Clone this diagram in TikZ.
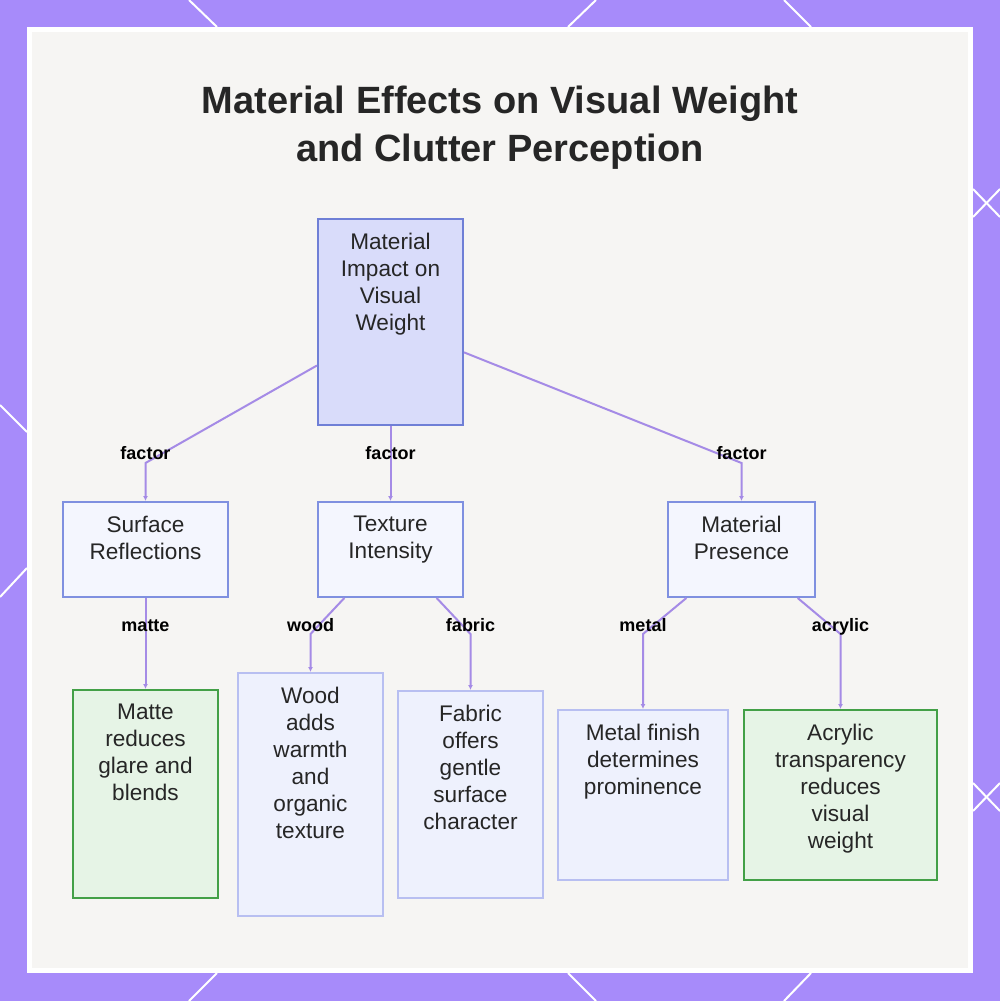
\documentclass[tikz,border=0pt]{standalone}
\usepackage{fontspec}
\setmainfont{Liberation Sans}
\usetikzlibrary{calc,arrows.meta}
\definecolor{bgpurple}{HTML}{A78BFA}
\definecolor{panelgray}{HTML}{F6F5F3}
\definecolor{rootfill}{HTML}{D9DCFA}
\definecolor{rootdraw}{HTML}{6F7FD6}
\definecolor{midfill}{HTML}{F4F6FE}
\definecolor{middraw}{HTML}{7F90E0}
\definecolor{leaffill}{HTML}{EEF1FD}
\definecolor{leafdraw}{HTML}{B8BFF1}
\definecolor{greenfill}{HTML}{E6F4E6}
\definecolor{greendraw}{HTML}{43A047}
\definecolor{edgepurple}{HTML}{A58BE6}
\definecolor{txtgray}{HTML}{262626}
\tikzset{
  box/.style={rectangle, inner sep=0pt, line width=1pt},
  rootbox/.style={box, draw=rootdraw, fill=rootfill},
  midbox/.style={box, draw=middraw, fill=midfill},
  leafbox/.style={box, draw=leafdraw, fill=leaffill},
  greenbox/.style={box, draw=greendraw, fill=greenfill},
  boxtext/.style={anchor=north, yshift=-7.3pt, inner sep=0pt, align=center, text=txtgray, font=\fontsize{11.3pt}{13.5pt}\selectfont},
  edge/.style={draw=edgepurple, line width=1pt, -{Latex[length=2.5pt,width=2.5pt]}},
  elabel/.style={inner sep=0pt, text height=6.6pt, text depth=0pt, text=black, font=\fontsize{9pt}{10pt}\selectfont\bfseries},
  title/.style={align=center, text=txtgray, font=\fontsize{19pt}{24pt}\selectfont\bfseries},
  frameline/.style={white, line width=1pt}
}
\begin{document}
\begin{tikzpicture}[x=0.5pt,y=-0.5pt]
\useasboundingbox (0,0) rectangle (1000,1001);
\fill[bgpurple] (0,0) rectangle (1000,1001);
% lattice lines on the frame
\draw[frameline] (189,0) -- (217,27);
\draw[frameline] (596,0) -- (568,27);
\draw[frameline] (784,0) -- (811,27);
\draw[frameline] (217,973) -- (189,1001);
\draw[frameline] (568,973) -- (596,1001);
\draw[frameline] (811,973) -- (784,1001);
\draw[frameline] (0,405) -- (27,432);
\draw[frameline] (27,568) -- (0,597);
\draw[frameline] (973,189) -- (1000,217);
\draw[frameline] (973,217) -- (1000,189);
\draw[frameline] (973,783) -- (1000,811);
\draw[frameline] (973,811) -- (1000,783);
% panel
\fill[white] (27,27) rectangle (973,973);
\fill[panelgray] (32,32) rectangle (968,968);

\node[title] (title) at (500,128) {Material Effects on Visual Weight\\and Clutter Perception};

\node[rootbox, minimum width=72.5pt, minimum height=103pt, label={[boxtext]north:Material\\Impact on\\Visual\\Weight}] (root) at (390.5,322) {};
\node[midbox, minimum width=82.5pt, minimum height=47.5pt, label={[boxtext]north:Surface\\Reflections}] (surf) at (145.5,549.5) {};
\node[midbox, minimum width=72.5pt, minimum height=47.5pt, label={[boxtext]north:Texture\\Intensity}] (tex) at (390.5,549.5) {};
\node[midbox, minimum width=73.5pt, minimum height=47.5pt, label={[boxtext]north:Material\\Presence}] (pres) at (741.5,549.5) {};
\node[greenbox, minimum width=72.5pt, minimum height=104pt, label={[boxtext]north:Matte\\reduces\\glare and\\blends}] (matte) at (145.5,794) {};
\node[leafbox, minimum width=72.5pt, minimum height=121.5pt, label={[boxtext]north:Wood\\adds\\warmth\\and\\organic\\texture}] (wood) at (310.5,794.5) {};
\node[leafbox, minimum width=72.5pt, minimum height=103.5pt, label={[boxtext]north:Fabric\\offers\\gentle\\surface\\character}] (fabric) at (470.5,794.5) {};
\node[leafbox, minimum width=85pt, minimum height=85pt, label={[boxtext]north:Metal finish\\determines\\prominence}] (metal) at (643,795) {};
\node[greenbox, minimum width=96.5pt, minimum height=85pt, label={[boxtext]north:Acrylic\\transparency\\reduces\\visual\\weight}] (acrylic) at (840.5,795) {};

\draw[edge] ($(root.south west)!0.291!(root.north west)$) -- (surf.north |- 0,463) node[elabel, yshift=5pt] {factor} -- (surf.north);
\draw[edge] (root.south) -- node[elabel, pos=0.364] {factor} (tex.north);
\draw[edge] ($(root.south east)!0.354!(root.north east)$) -- (pres.north |- 0,463) node[elabel, yshift=5pt] {factor} -- (pres.north);
\draw[edge] (surf.south) -- node[elabel, pos=0.3] {matte} (matte.north);
\draw[edge] ($(tex.south west)!0.186!(tex.south east)$) -- (wood.north |- 0,634) node[elabel, yshift=4.5pt] {wood} -- (wood.north);
\draw[edge] ($(tex.south west)!0.814!(tex.south east)$) -- (fabric.north |- 0,634) node[elabel, yshift=4.5pt] {fabric} -- (fabric.north);
\draw[edge] ($(pres.south west)!0.13!(pres.south east)$) -- (metal.north |- 0,634) node[elabel, yshift=4.5pt] {metal} -- (metal.north);
\draw[edge] ($(pres.south west)!0.877!(pres.south east)$) -- (acrylic.north |- 0,634) node[elabel, yshift=4.5pt] {acrylic} -- (acrylic.north);
\end{tikzpicture}
\end{document}
